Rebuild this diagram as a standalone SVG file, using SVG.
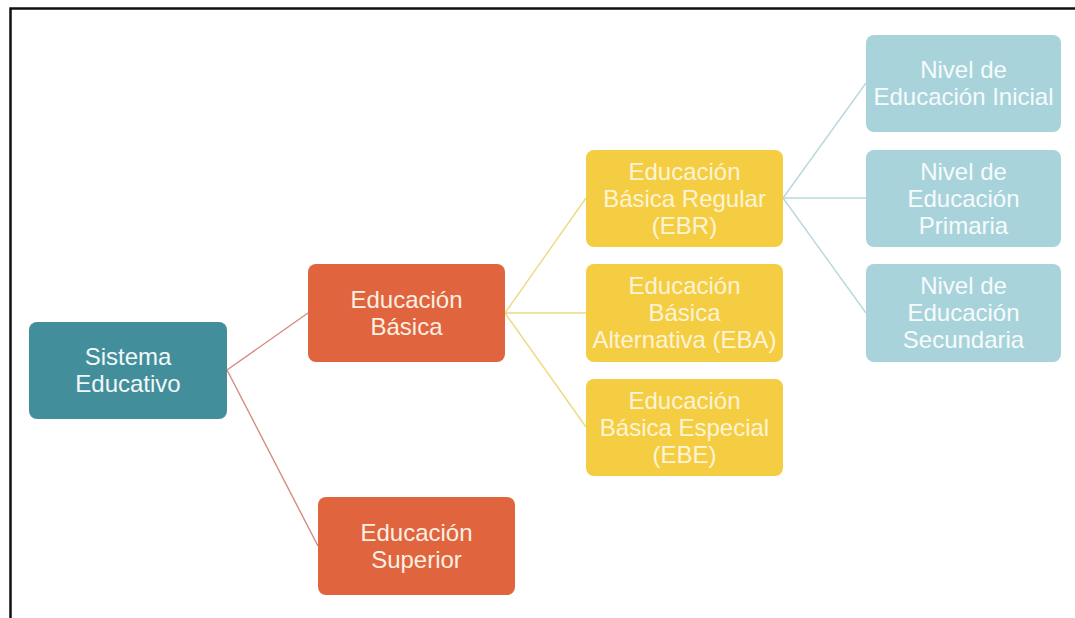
<svg xmlns="http://www.w3.org/2000/svg" width="1075" height="618" viewBox="0 0 1075 618">
<style>
text{font-family:"Liberation Sans",Arial,sans-serif;font-size:24px;text-anchor:middle}
.box{rx:8px;ry:8px}
.teal{fill:#428f9b}
.orange{fill:#e0653f}
.yellow{fill:#f5cd42}
.blue{fill:#a9d3da}
.tw{fill:#f2f8f8}
.to{fill:#fcefe2}
.ty{fill:#fdf4d6}
.tb{fill:#f6fbfc}
.c1{stroke:#d68a7f;stroke-width:1.4;fill:none}
.c2{stroke:#ecd982;stroke-width:1.4;fill:none}
.c3{stroke:#b9d7dd;stroke-width:1.4;fill:none}
</style>
<rect width="1075" height="618" fill="#ffffff"/>
<rect x="10.5" y="8.5" width="1080" height="630" fill="none" stroke="#111111" stroke-width="2.5"/>
<g id="connectors">
<line class="c1" x1="227" y1="370" x2="308" y2="313"/>
<line class="c1" x1="227" y1="370" x2="318" y2="546"/>
<line class="c2" x1="505" y1="313" x2="586" y2="198"/>
<line class="c2" x1="505" y1="313" x2="586" y2="313"/>
<line class="c2" x1="505" y1="313" x2="586" y2="427"/>
<line class="c3" x1="783" y1="198" x2="866" y2="83"/>
<line class="c3" x1="783" y1="198" x2="866" y2="198"/>
<line class="c3" x1="783" y1="198" x2="866" y2="313"/>
</g>
<g id="sistema">
<rect class="box teal" x="29" y="322" width="198" height="97"/>
<text class="tw" x="128" y="364.5">Sistema</text>
<text class="tw" x="128" y="391.5">Educativo</text>
</g>
<g id="basica">
<rect class="box orange" x="308" y="264" width="197" height="98"/>
<text class="to" x="406.5" y="307.5">Educación</text>
<text class="to" x="406.5" y="334.5">Básica</text>
</g>
<g id="superior">
<rect class="box orange" x="318" y="497" width="197" height="98"/>
<text class="to" x="416.5" y="540.5">Educación</text>
<text class="to" x="416.5" y="567.5">Superior</text>
</g>
<g id="ebr">
<rect class="box yellow" x="586" y="150" width="197" height="97"/>
<text class="ty" x="684.5" y="179.5">Educación</text>
<text class="ty" x="684.5" y="206.5">Básica Regular</text>
<text class="ty" x="684.5" y="233.5">(EBR)</text>
</g>
<g id="eba">
<rect class="box yellow" x="586" y="264" width="197" height="98"/>
<text class="ty" x="684.5" y="294">Educación</text>
<text class="ty" x="684.5" y="321">Básica</text>
<text class="ty" x="684.5" y="348">Alternativa (EBA)</text>
</g>
<g id="ebe">
<rect class="box yellow" x="586" y="379" width="197" height="97"/>
<text class="ty" x="684.5" y="408.5">Educación</text>
<text class="ty" x="684.5" y="435.5">Básica Especial</text>
<text class="ty" x="684.5" y="462.5">(EBE)</text>
</g>
<g id="inicial">
<rect class="box blue" x="866" y="35" width="195" height="97"/>
<text class="tb" x="963.5" y="78">Nivel de</text>
<text class="tb" x="963.5" y="105">Educación Inicial</text>
</g>
<g id="primaria">
<rect class="box blue" x="866" y="150" width="195" height="97"/>
<text class="tb" x="963.5" y="179.5">Nivel de</text>
<text class="tb" x="963.5" y="206.5">Educación</text>
<text class="tb" x="963.5" y="233.5">Primaria</text>
</g>
<g id="secundaria">
<rect class="box blue" x="866" y="264" width="195" height="98"/>
<text class="tb" x="963.5" y="294">Nivel de</text>
<text class="tb" x="963.5" y="321">Educación</text>
<text class="tb" x="963.5" y="348">Secundaria</text>
</g>
</svg>
